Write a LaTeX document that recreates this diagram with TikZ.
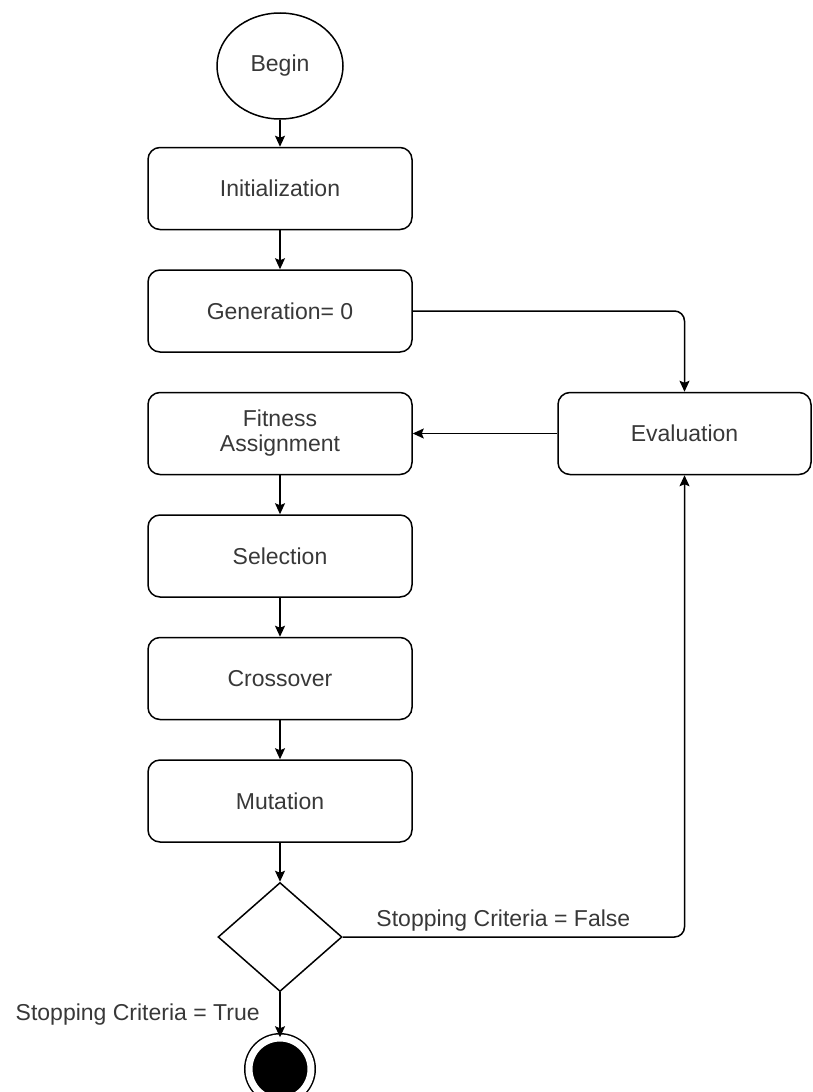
\documentclass[tikz,border=0pt]{standalone}
\usepackage{fontspec}
\setmainfont{Liberation Sans}
\usetikzlibrary{positioning, shapes.geometric, arrows.meta}

\begin{document}
\begin{tikzpicture}[x=1pt, y=1pt, node distance=122.5pt, line width=1.5pt,
    font=\fontsize{23}{25}\selectfont,
    >={Stealth[length=11pt, width=10pt, inset=2pt]},
    block/.style={draw, rounded corners=12pt, minimum width=264pt, minimum height=82pt, text=black!78, align=center},
    startnode/.style={ellipse, draw, minimum width=126pt, minimum height=106pt, inner sep=0pt, text=black!78},
    choice/.style={diamond, draw, minimum width=124pt, minimum height=109pt, inner sep=0pt},
    stopnode/.style={circle, draw, fill=black, double=white, double distance=7pt, minimum size=62pt, inner sep=0pt},
    edgetext/.style={text=black!78, line width=0pt}]
      \useasboundingbox (0,0) rectangle (813,-1092);

      \node[startnode] (begin) at (280,-66) {Begin};
      \node[block, below of=begin] (init) {Initialization};
      \node[block, below of=init] (gen) {Generation= 0};
      \node[block, below of=gen] (fit) {Fitness\\Assignment};
      \node[block, below of=fit] (sel) {Selection};
      \node[block, below of=sel] (cross) {Crossover};
      \node[block, below of=cross] (mut) {Mutation};
      \node[choice, below of=mut, yshift=-13.5pt] (dec) {};
      \node[stopnode, below of=dec, yshift=-9.5pt] (stop) {};

      \node[block, right of=fit, xshift=282pt, minimum width=253pt] (eval) {Evaluation};

      \draw[->] (begin)--(init);
      \draw[->] (init)--(gen);
      \draw[->] (fit)--(sel);
      \draw[->] (sel)--(cross);
      \draw[->] (cross)--(mut);
      \draw[->] (mut)--(dec);

      \draw[->, rounded corners=10pt] (gen.east) -| (eval.north);
      \draw[->] (eval)--(fit);
      \draw[->, rounded corners=10pt] (dec.east) -| node[edgetext, pos=0.235, above, yshift=2pt] {Stopping Criteria = False} (eval.south);

      \draw[->] (dec)-- node[edgetext, midway, left=17pt] {Stopping Criteria = True} (stop);
    \end{tikzpicture}
\end{document}
